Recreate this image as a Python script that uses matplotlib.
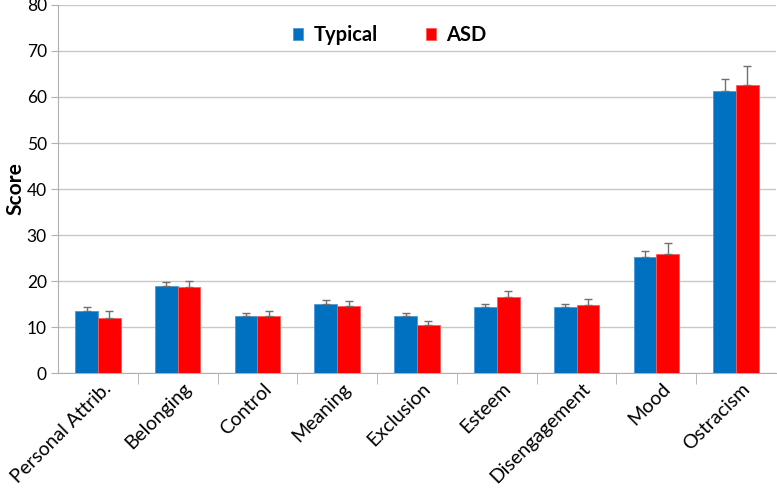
import matplotlib.pyplot as plt
import matplotlib.transforms as mtransforms
import numpy as np

categories = ["Personal Attrib.", "Belonging", "Control", "Meaning", "Exclusion",
              "Esteem", "Disengagement", "Mood", "Ostracism"]
typical = [13.5, 18.9, 12.5, 15.1, 12.4, 14.4, 14.3, 25.2, 61.4]
typical_err = [0.8, 0.8, 0.5, 0.7, 0.6, 0.7, 0.8, 1.3, 2.5]
asd = [11.9, 18.7, 12.3, 14.6, 10.4, 16.6, 14.8, 25.9, 62.5]
asd_err = [1.5, 1.4, 1.1, 1.0, 0.8, 1.2, 1.3, 2.4, 4.3]

plt.rcParams['font.family'] = ['Lato', 'DejaVu Sans']

fig = plt.figure(figsize=(7.77, 4.91), dpi=100)
ax = fig.add_axes([58/777, 118/491, 718/777, 368/491])

x = np.arange(len(categories))
w = 0.285
errkw = dict(ecolor='#707070', elinewidth=1, capsize=3, capthick=1)
ax.bar(x - w/2, typical, w, color='#0070C0', edgecolor='#4a9ad6', linewidth=0.6,
       yerr=[np.zeros(len(x)), typical_err], error_kw=errkw, label='Typical', zorder=3)
ax.bar(x + w/2, asd, w, color='#FF0000', edgecolor='#ff5a5a', linewidth=0.6,
       yerr=[np.zeros(len(x)), asd_err], error_kw=errkw, label='ASD', zorder=3)

ax.set_xlim(-0.5, len(categories) - 0.5)
ax.set_ylim(0, 80)
ax.set_yticks(range(0, 81, 10))
ax.grid(axis='y', color='#c8c8c8', linewidth=1, zorder=0)

ax.set_xticks(x)
ax.set_xticklabels(categories, rotation=45, ha='right', rotation_mode='anchor', fontsize=14)
ax.tick_params(axis='x', length=0, pad=5)
# nudge labels a little to the right, like the original
shift = mtransforms.ScaledTranslation(5/100, 0, fig.dpi_scale_trans)
for lab in ax.get_xticklabels():
    lab.set_transform(lab.get_transform() + shift)
ax.set_xticks(np.arange(0.5, len(categories) - 0.5, 1), minor=True)
ax.tick_params(axis='x', which='minor', length=8, color='#b0b0b0')
ax.tick_params(axis='y', length=5, color='#b0b0b0', labelsize=12.5, pad=3)

for s in ['top', 'right']:
    ax.spines[s].set_visible(False)
for s in ['left', 'bottom']:
    ax.spines[s].set_color('#b0b0b0')

ax.set_ylabel('Score', fontsize=15, fontweight='bold', labelpad=1)

leg = ax.legend(loc='upper center', bbox_to_anchor=(0.462, 0.995), ncol=2, frameon=False,
                prop={'weight': 'bold', 'size': 14.5}, handlelength=0.5, handleheight=0.5,
                columnspacing=2.4, handletextpad=0.5)

plt.savefig('out.png', dpi=100)
plt.close()
